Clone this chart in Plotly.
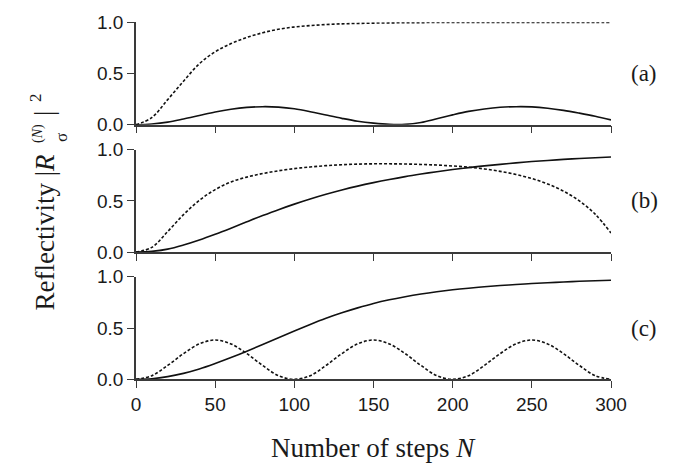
import plotly.graph_objects as go

W, H = 692, 463

steps = [0, 10, 20, 30, 40, 50, 60, 70, 80, 90, 100, 110, 120, 130, 140, 150,
         160, 170, 180, 190, 200, 210, 220, 230, 240, 250, 260, 270, 280, 290, 300]

a_solid = [0, 0.007, 0.025, 0.056, 0.090, 0.124, 0.151, 0.169, 0.176, 0.172, 0.155,
           0.127, 0.094, 0.062, 0.034, 0.015, 0.003, 0.003, 0.022, 0.058, 0.096,
           0.130, 0.154, 0.170, 0.176, 0.174, 0.161, 0.140, 0.113, 0.083, 0.047]
a_dash = [0, 0.07, 0.245, 0.425, 0.595, 0.712, 0.792, 0.852, 0.898, 0.932, 0.954,
          0.968, 0.978, 0.985, 0.989, 0.992, 0.994, 0.996, 0.997, 0.998, 0.998,
          0.998, 0.998, 0.998, 0.998, 0.998, 0.998, 0.998, 0.998, 0.998, 0.998]

b_solid = [0, 0.006, 0.028, 0.068, 0.117, 0.173, 0.233, 0.295, 0.356, 0.414, 0.468,
           0.518, 0.564, 0.606, 0.644, 0.678, 0.709, 0.737, 0.762, 0.785, 0.806,
           0.825, 0.842, 0.857, 0.871, 0.884, 0.895, 0.905, 0.914, 0.922, 0.929]
b_dash = [0, 0.045, 0.20, 0.365, 0.505, 0.61, 0.685, 0.732, 0.767, 0.794, 0.815,
          0.831, 0.844, 0.853, 0.859, 0.862, 0.862, 0.860, 0.856, 0.850, 0.841,
          0.829, 0.812, 0.788, 0.758, 0.718, 0.665, 0.595, 0.500, 0.370, 0.185]

c_solid = [0, 0.006, 0.026, 0.058, 0.101, 0.154, 0.212, 0.274, 0.339, 0.405, 0.471,
           0.535, 0.595, 0.648, 0.696, 0.739, 0.775, 0.805, 0.831, 0.853, 0.872,
           0.888, 0.902, 0.914, 0.924, 0.933, 0.941, 0.948, 0.955, 0.961, 0.966]
c_dash = [0, 0.035, 0.135, 0.25, 0.345, 0.383, 0.345, 0.25, 0.135, 0.035, 0,
          0.035, 0.135, 0.25, 0.345, 0.383, 0.345, 0.25, 0.135, 0.035, 0,
          0.035, 0.135, 0.25, 0.345, 0.383, 0.345, 0.25, 0.135, 0.035, 0]

x_ticks = [0, 50, 100, 150, 200, 250, 300]
y_ticks = [0.0, 0.5, 1.0]
panel_labels = ["(a)", "(b)", "(c)"]
x_title = "Number of steps <i>N</i>"

panels = [(a_solid, a_dash), (b_solid, b_dash), (c_solid, c_dash)]

# pixel layout
x_left, x_right = 128, 603
panel_px = [(14.3, 116.7), (141.7, 244.0), (268.7, 371.3)]


def px_x(p):
    return p / W


def px_y(p):
    return (H - p) / H


fig = go.Figure()
axis_color = "#3a3a3a"
text_color = "#1a1a1a"
tick_font = dict(family="Liberation Sans, Arial, sans-serif", size=19, color=text_color)
serif = "Liberation Serif, Times New Roman, serif"

layout = dict(
    width=W, height=H,
    margin=dict(l=0, r=0, t=0, b=0),
    paper_bgcolor="white", plot_bgcolor="white",
    showlegend=False,
)

for i, (solid, dash) in enumerate(panels):
    k = "" if i == 0 else str(i + 1)
    xa, ya = "x" + k, "y" + k
    fig.add_trace(go.Scatter(x=steps, y=solid, mode="lines", xaxis=xa, yaxis=ya,
                             line=dict(color="#111111", width=1.6, shape="spline", smoothing=1.0)))
    fig.add_trace(go.Scatter(x=steps, y=dash, mode="lines", xaxis=xa, yaxis=ya,
                             line=dict(color="#111111", width=1.6, dash="3px,2px",
                                       shape="spline", smoothing=1.0)))
    top, bot = panel_px[i]
    layout["xaxis" + k] = dict(
        domain=[px_x(x_left), px_x(x_right)], range=[0, 300], anchor=ya,
        tickvals=x_ticks, showticklabels=(i == 2), ticks="outside", ticklen=7,
        tickwidth=1.3, tickcolor=axis_color, showline=True, linecolor=axis_color,
        linewidth=1.5, showgrid=False, zeroline=False, tickfont=tick_font,
        automargin=False,
    )
    layout["yaxis" + k] = dict(
        domain=[px_y(bot), px_y(top)], range=[0, 1], anchor=xa,
        tickvals=y_ticks, tickformat=".1f", ticks="outside", ticklen=7,
        tickwidth=1.3, tickcolor=axis_color, showline=True, linecolor=axis_color,
        linewidth=1.5, showgrid=False, zeroline=False, tickfont=tick_font,
        automargin=False,
    )

fig.update_layout(**layout)

ann = []
for i, lab in enumerate(panel_labels):
    top, bot = panel_px[i]
    ann.append(dict(text=lab, x=px_x(636), y=px_y((top + bot) / 2), xref="paper", yref="paper",
                    showarrow=False, xanchor="center", yanchor="middle",
                    font=dict(family=serif, size=23, color=text_color)))

ann.append(dict(text=x_title, x=px_x((x_left + x_right) / 2), y=px_y(440), xref="paper", yref="paper",
                showarrow=False, xanchor="center", yanchor="middle",
                font=dict(family=serif, size=27, color=text_color)))

# y title pieces (rotated)
yfont = dict(family=serif, size=27, color=text_color)
yfont_s = dict(family=serif, size=17, color=text_color)
ann.append(dict(text="Reflectivity |<i>R</i>", x=px_x(36), y=px_y(305), xref="paper", yref="paper",
                showarrow=False, textangle=-90, xanchor="center", yanchor="bottom", font=yfont))
ann.append(dict(text="σ", x=px_x(53), y=px_y(130), xref="paper", yref="paper",
                showarrow=False, textangle=-90, xanchor="center", yanchor="middle", font=yfont_s))
ann.append(dict(text="(<i>N</i>)", x=px_x(30), y=px_y(126), xref="paper", yref="paper",
                showarrow=False, textangle=-90, xanchor="center", yanchor="middle",
                font=dict(family=serif, size=14, color=text_color)))
ann.append(dict(text="|", x=px_x(36), y=px_y(106), xref="paper", yref="paper",
                showarrow=False, textangle=-90, xanchor="center", yanchor="middle", font=yfont))
ann.append(dict(text="2", x=px_x(27), y=px_y(90), xref="paper", yref="paper",
                showarrow=False, textangle=-90, xanchor="center", yanchor="middle", font=yfont_s))

fig.update_layout(annotations=ann)

fig.write_html("out.html")
